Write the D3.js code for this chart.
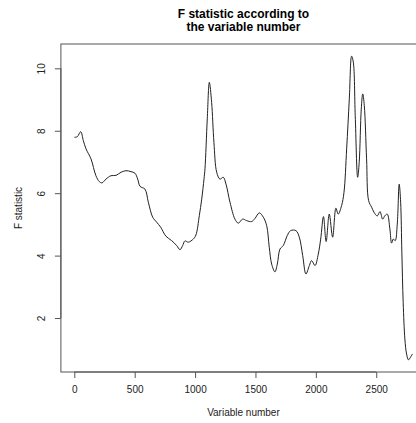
<!DOCTYPE html>
<html>
<head>
<meta charset="utf-8">
<script src="https://cdn.jsdelivr.net/npm/d3@7"></script>
<style>
  html, body { margin: 0; padding: 0; background: #fff; }
  svg { display: block; font-family: "Liberation Sans", Arial, sans-serif; }
</style>
</head>
<body>
<svg id="chart" width="416" height="423"></svg>
<script>
// ---- data ----
const variableNumber = [1, 25, 53, 75, 97, 138, 179, 207, 229, 262, 304, 345, 387, 428, 469, 502, 525, 544, 585, 613, 649, 682, 715, 759, 806, 848, 875, 897, 916, 944, 985, 1007, 1035, 1055, 1074, 1082, 1101, 1118, 1137, 1156, 1179, 1206, 1233, 1256, 1289, 1330, 1358, 1394, 1427, 1468, 1496, 1532, 1565, 1593, 1614, 1634, 1661, 1681, 1703, 1730, 1763, 1791, 1835, 1863, 1891, 1918, 1946, 1965, 1993, 2020, 2040, 2063, 2085, 2111, 2139, 2166, 2185, 2213, 2233, 2255, 2277, 2296, 2310, 2326, 2346, 2359, 2376, 2388, 2401, 2420, 2437, 2462, 2481, 2508, 2531, 2553, 2572, 2591, 2613, 2627, 2641, 2657, 2674, 2690, 2702, 2712, 2723, 2737, 2751, 2767, 2783, 2800];
const fStatistic = [7.79, 7.81, 7.97, 7.68, 7.42, 7.10, 6.56, 6.37, 6.33, 6.45, 6.56, 6.57, 6.67, 6.72, 6.69, 6.64, 6.45, 6.22, 6.13, 5.71, 5.23, 5.07, 4.91, 4.62, 4.48, 4.32, 4.19, 4.32, 4.47, 4.43, 4.53, 4.66, 5.28, 5.81, 6.46, 6.78, 8.38, 9.55, 8.91, 7.63, 6.67, 6.45, 6.51, 6.29, 5.71, 5.17, 5.04, 5.17, 5.12, 5.09, 5.19, 5.37, 5.23, 4.96, 4.27, 3.73, 3.48, 3.73, 4.21, 4.32, 4.64, 4.80, 4.80, 4.59, 4.00, 3.41, 3.68, 3.84, 3.68, 4.05, 4.53, 5.25, 4.45, 5.33, 4.59, 5.52, 5.33, 5.60, 6.03, 7.42, 9.02, 10.39, 10.20, 8.48, 6.51, 6.99, 8.70, 9.18, 8.81, 7.10, 5.76, 5.55, 5.39, 5.27, 5.41, 5.17, 5.28, 5.33, 4.85, 4.40, 4.53, 4.48, 5.01, 6.29, 5.71, 4.11, 2.50, 1.33, 0.85, 0.66, 0.74, 0.85];
const xTicks = [0, 500, 1000, 1500, 2000, 2500];
const yTicks = [2, 4, 6, 8, 10];
const titleLines = ["F statistic according to", "the variable number"];
const xLabel = "Variable number";
const yLabel = "F statistic";

// ---- layout ----
const svg = d3.select("#chart");
const plot = { left: 60.9, right: 426, top: 44, bottom: 372 };

function padded(ext) { const p = (ext[1] - ext[0]) * 0.04; return [ext[0] - p, ext[1] + p]; }
const x = d3.scaleLinear().domain(padded(d3.extent(variableNumber))).range([plot.left, plot.right]);
const y = d3.scaleLinear().domain(padded(d3.extent(fStatistic))).range([plot.bottom, plot.top]);

const data = variableNumber.map((v, i) => ({ x: v, y: fStatistic[i] }));

// line
const line = d3.line().x(d => x(d.x)).y(d => y(d.y)).curve(d3.curveCatmullRom.alpha(0.5));
svg.append("path").datum(data)
  .attr("d", line)
  .attr("fill", "none")
  .attr("stroke", "#222")
  .attr("stroke-width", 1);

// box
svg.append("rect")
  .attr("x", plot.left).attr("y", plot.top)
  .attr("width", plot.right - plot.left).attr("height", plot.bottom - plot.top)
  .attr("fill", "none").attr("stroke", "#555").attr("stroke-width", 1);

// x axis
const xAxis = d3.axisBottom(x).tickValues(xTicks).tickSize(6).tickPadding(8).tickFormat(d3.format("d"));
const gx = svg.append("g").attr("transform", `translate(0,${plot.bottom})`).call(xAxis);
gx.select(".domain").attr("d", `M${x(xTicks[0])},0H${x(xTicks[xTicks.length - 1])}`).attr("stroke", "#555");
gx.selectAll(".tick line").attr("stroke", "#555");
gx.selectAll(".tick text").attr("font-size", 10).attr("fill", "#222")
  .attr("font-family", "Liberation Sans, Arial, sans-serif");

// y axis
const yAxis = d3.axisLeft(y).tickValues(yTicks).tickSize(6).tickFormat(d3.format("d"));
const gy = svg.append("g").attr("transform", `translate(${plot.left},0)`).call(yAxis);
gy.select(".domain").attr("d", `M0,${y(yTicks[0])}V${y(yTicks[yTicks.length - 1])}`).attr("stroke", "#555");
gy.selectAll(".tick line").attr("stroke", "#555");
gy.selectAll(".tick text")
  .attr("font-size", 10).attr("fill", "#222")
  .attr("font-family", "Liberation Sans, Arial, sans-serif")
  .attr("x", null).attr("dy", null)
  .attr("text-anchor", "middle")
  .attr("transform", "translate(-15.5,0) rotate(-90)");

// titles
const cx = (plot.left + plot.right) / 2;
svg.append("g").selectAll("text").data(titleLines).join("text")
  .attr("x", cx).attr("y", (d, i) => 17.5 + i * 13.5)
  .attr("text-anchor", "middle")
  .attr("font-size", 12).attr("font-weight", "bold").attr("fill", "#000")
  .text(d => d);

svg.append("text")
  .attr("x", cx).attr("y", 415.5)
  .attr("text-anchor", "middle")
  .attr("font-size", 10).attr("fill", "#222")
  .text(xLabel);

svg.append("text")
  .attr("transform", `translate(22,${(plot.top + plot.bottom) / 2}) rotate(-90)`)
  .attr("text-anchor", "middle")
  .attr("font-size", 10).attr("fill", "#222")
  .text(yLabel);
</script>
</body>
</html>
